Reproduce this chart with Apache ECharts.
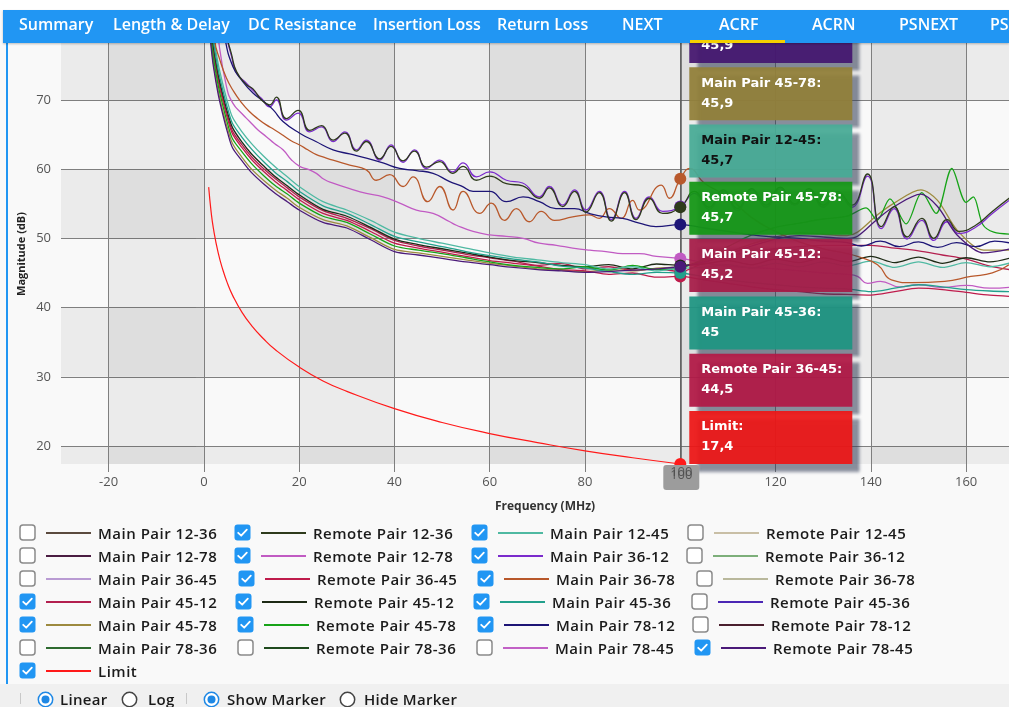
<!DOCTYPE html>
<html>
<head>
<meta charset="utf-8">
<script src="https://cdn.jsdelivr.net/npm/echarts@6/dist/echarts.min.js"></script>
<style>
  html, body { margin: 0; padding: 0; }
  body { width: 1009px; height: 707px; position: relative; overflow: hidden; background: #f9f9f9; font-family: 'Open Sans', sans-serif; }
  #topgap { position: absolute; left: 0; top: 0; width: 1009px; height: 10px; background: #fff; z-index: 3; }
  #tabs { position: absolute; left: 3px; top: 10px; right: 0; height: 33px; background: #2196f3; z-index: 3; box-shadow: 0 1px 2px rgba(0,0,0,0.25); }
  #tabs span { position: absolute; top: 0; line-height: 29px; color: #fff; font-weight: 600; font-size: 16px; white-space: nowrap; }
  #tabs .sel-bar { position: absolute; left: 687px; width: 95px; bottom: 0; height: 3px; background: #f5d000; }
  #edge { position: absolute; left: 6px; top: 43px; width: 2px; height: 641px; background: #2196f3; z-index: 2; }
  #chart { position: absolute; left: 0; top: 0; width: 1009px; height: 520px; }
  #legend { position: absolute; left: 0; top: 0; width: 1009px; height: 707px; pointer-events: none; }
  .item { position: absolute; height: 18px; }
  .item svg { position: absolute; left: 0; top: 0; }
  .item .ln { position: absolute; left: 27px; top: 8px; width: 45px; height: 2px; }
  .item .lb { position: absolute; left: 79px; top: -3px; line-height: 24px; font-size: 15px; font-weight: 600; letter-spacing: 0.5px; color: #1a1a1a; white-space: nowrap; }
  #bottom { position: absolute; left: 0; top: 684px; width: 1009px; height: 23px; background: #f0f0f0; }
  #bottom .sep { position: absolute; top: 9px; width: 1px; height: 11px; background: #c8c8c8; }
  #bottom svg { position: absolute; top: 7px; }
  #bottom .t { position: absolute; top: 3px; line-height: 24px; font-size: 15px; font-weight: 600; letter-spacing: 0.3px; color: #1a1a1a; }
</style>
</head>
<body>
<div id="topgap"></div>
<div id="tabs"></div>
<div id="edge"></div>
<div id="chart"></div>
<div id="legend"></div>
<div id="bottom"></div>
<script>
// ACRF view: measured pairs vs frequency, marker at 100 MHz

const tabNames = ['Summary', 'Length & Delay', 'DC Resistance', 'Insertion Loss', 'Return Loss', 'NEXT', 'ACRF', 'ACRN', 'PSNEXT', 'PSACRF'];

// lower bundle, sampled on a shared frequency list (MHz) up to the marker
const lowFreq = [1, 1.5, 2, 3, 4, 5, 6, 8, 10, 12.5, 15, 17.5, 20, 25, 30, 35, 40, 45, 50, 55, 60, 65, 70, 75, 80, 85, 90, 95, 100];

const mainPair12_45 = [86.5, 82.4, 79.3, 75.2, 72.2, 69.6, 67.5, 65.4, 63.7, 61.9, 60.3, 58.9, 57.5, 55.3, 54.1, 52.6, 50.9, 50.0, 49.3, 48.6, 47.9, 47.3, 46.9, 46.5, 46.2, 45.6, 45.9, 45.3, 45.7];
const mainPair45_36 = [85.5, 81.4, 78.4, 74.3, 71.3, 68.7, 66.6, 64.6, 62.9, 61.1, 59.5, 58.2, 56.8, 54.7, 53.6, 52.0, 50.3, 49.5, 48.8, 48.1, 47.5, 47.0, 46.6, 46.0, 45.7, 45.2, 44.8, 45.1, 45.0];
const remotePair45_12 = [84.8, 80.7, 77.7, 73.7, 70.7, 68.1, 66.0, 63.9, 62.2, 60.5, 58.9, 57.6, 56.3, 54.2, 53.2, 51.6, 49.9, 49.1, 48.5, 47.9, 47.3, 46.8, 46.5, 46.1, 45.9, 46.2, 45.6, 46.3, 46.1];
const mainPair45_12 = [84.3, 80.2, 77.2, 73.2, 70.2, 67.6, 65.5, 63.5, 61.8, 60.1, 58.6, 57.3, 56.0, 54.0, 52.9, 51.4, 49.7, 48.9, 48.3, 47.7, 47.2, 46.7, 46.1, 46.4, 45.6, 45.9, 45.4, 45.6, 45.2];
const remotePair36_45 = [83.8, 79.8, 76.8, 72.8, 69.8, 67.2, 65.1, 63.1, 61.4, 59.7, 58.2, 56.9, 55.6, 53.6, 52.6, 51.0, 49.3, 48.6, 48.0, 47.4, 46.8, 46.4, 46.0, 45.5, 45.3, 44.8, 45.0, 44.4, 44.5];
const remotePair45_78 = [83.2, 79.1, 76.1, 72.1, 69.1, 66.5, 64.4, 62.5, 60.8, 59.1, 57.6, 56.4, 55.1, 53.2, 52.3, 50.6, 48.9, 48.3, 47.8, 47.2, 46.6, 46.1, 45.8, 45.6, 45.9, 45.4, 46.1, 45.5, 45.7];
const mainPair45_78 = [82.3, 78.2, 75.3, 71.3, 68.3, 65.8, 63.7, 61.7, 60.0, 58.4, 57.0, 55.8, 54.5, 52.7, 51.8, 50.1, 48.4, 47.9, 47.4, 46.9, 46.4, 46.0, 45.6, 45.4, 45.2, 45.5, 45.3, 45.7, 45.9];
const remotePair78_45 = [81.8, 77.7, 74.8, 70.8, 67.8, 65.2, 63.1, 61.2, 59.5, 57.9, 56.5, 55.3, 54.1, 52.3, 51.5, 49.8, 48.1, 47.6, 47.1, 46.6, 46.2, 45.8, 45.5, 45.3, 45.1, 45.2, 45.4, 45.6, 45.9];

// the same bundle above 100 MHz, [MHz, dB]
const mainPair12_45Tail = [[105, 45.8], [110, 46.2], [115, 45.7], [120, 46.4], [125, 45.9], [130, 46.6], [135, 46.0], [140, 46.7], [145, 45.8], [150, 46.6], [155, 45.8], [160, 46.5], [165, 45.9], [170, 46.6]];
const mainPair45_36Tail = [[105, 44.5], [110, 44.0], [115, 43.6], [120, 43.3], [125, 43.0], [130, 42.8], [135, 42.7], [140, 42.3], [145, 42.8], [150, 43.3], [155, 43.0], [160, 42.6], [165, 42.4], [170, 42.3]];
const remotePair45_12Tail = [[105, 46.3], [110, 46.8], [115, 46.2], [120, 47.0], [125, 46.5], [130, 47.2], [135, 46.6], [140, 47.4], [145, 46.5], [150, 47.3], [155, 46.4], [160, 47.2], [165, 46.6], [170, 47.3]];
const mainPair45_12Tail = [[105, 46.5], [110, 47.5], [115, 48.0], [120, 48.5], [125, 48.8], [130, 49.0], [135, 49.0], [140, 49.0], [145, 48.6], [150, 48.2], [155, 47.6], [160, 47.0], [165, 46.0], [170, 45.4]];
const remotePair36_45Tail = [[105, 44.0], [110, 43.5], [115, 43.0], [120, 42.6], [125, 42.3], [130, 42.0], [135, 41.9], [140, 41.8], [145, 42.3], [150, 42.8], [155, 42.6], [160, 42.2], [165, 41.8], [170, 41.6]];
const remotePair45_78Tail = [[105, 47.0], [110, 48.8], [115, 50.5], [120, 51.6], [125, 52.2], [130, 52.8], [135, 53.2], [139, 54.4], [141.3, 52.6], [144, 55.7], [147.4, 52.1], [150.7, 56.6], [153.7, 53.6], [157, 60.1], [160, 55.2], [161.5, 56.0], [163.5, 52.0], [165.8, 50.9], [170, 50.6]];
const mainPair45_78Tail = [[105, 46.8], [110, 48.0], [115, 49.2], [120, 50.2], [125, 50.8], [130, 50.6], [135, 50.4], [137.2, 50.9], [141.4, 53.4], [144.9, 55.1], [150.5, 57.0], [154, 55.5], [158.1, 51.2], [163.7, 48.3], [170, 48.3]];
const remotePair78_45Tail = [[105, 46.6], [110, 47.7], [115, 48.9], [120, 49.9], [125, 50.4], [130, 50.2], [135, 50.0], [137.2, 50.3], [141.4, 52.8], [144.9, 54.6], [150.5, 56.4], [154, 54.6], [158.1, 50.5], [163.7, 47.9], [170, 48.6]];

// upper curves, [MHz, dB]
const mainPair36_12 = [[1, 100], [3, 88], [4.5, 80], [5.8, 76.3], [6.85, 73.9], [8.95, 72.4], [10.3, 71.4], [12.1, 70.2], [13.8, 69.0], [15.2, 70.0], [17.3, 67.1], [19.8, 68.1], [22.2, 65.4], [24.7, 66.1], [27.1, 64.0], [29.6, 65.4], [32, 62.8], [34.1, 64.2], [36.9, 61.3], [39.3, 63.5], [41.8, 61.0], [44.2, 62.8], [46.7, 60.1], [49.5, 61.3], [52.2, 59.6], [54.4, 60.9], [57.2, 58.9], [60, 59.6], [63.5, 58.4], [66.9, 58.0], [70.4, 56.0], [72.5, 57.5], [75.3, 54.8], [77.8, 57.0], [80.2, 54.1], [83, 56.8], [85.5, 52.7], [88.3, 56.8], [90.7, 52.9], [93.5, 56.0], [96.3, 53.9], [100, 54.6],
  [103, 56.5], [106, 54.2], [109, 56.8], [112, 54.0], [115, 57.0], [118, 54.5], [121, 57.2], [124, 54.8], [127, 57.0], [130, 54.5], [133, 56.5], [136, 54.5], [139.3, 59.0], [142.2, 51.4], [144.9, 54.3], [147.6, 49.9], [150.7, 52.6], [153.2, 49.7], [156, 52.4], [158.5, 50.7], [162, 51.6], [165.5, 53.6], [170, 56.0]];
const remotePair12_36 = [[1, 100], [3, 88.3], [4.5, 80.2], [5.8, 76.6], [6.85, 74.1], [8.95, 72.2], [10.3, 71.6], [12.1, 70.0], [13.8, 69.3], [15.2, 70.4], [17.3, 67.3], [19.8, 68.5], [22.2, 65.6], [24.7, 66.3], [27.1, 64.2], [29.6, 65.2], [32, 62.6], [34.1, 64.0], [36.9, 61.5], [39.3, 63.3], [41.8, 61.2], [44.2, 62.6], [46.7, 60.3], [49.5, 61.1], [52.2, 59.4], [54.4, 60.4], [57.2, 58.4], [60, 59.0], [63.5, 57.9], [66.9, 57.6], [70.4, 55.8], [72.5, 57.3], [75.3, 54.6], [77.8, 56.8], [80.2, 53.8], [83, 56.6], [85.5, 52.5], [88.3, 56.6], [90.7, 52.7], [93.5, 55.8], [96.3, 53.6], [100, 54.5],
  [103, 56.8], [106, 54.5], [109, 57.0], [112, 54.3], [115, 57.2], [118, 54.8], [121, 57.4], [124, 55.0], [127, 57.2], [130, 54.8], [133, 56.8], [136, 54.8], [139.3, 59.3], [142.2, 51.7], [144.9, 54.6], [147.6, 50.2], [150.7, 52.9], [153.2, 50.0], [156, 52.7], [158.5, 51.0], [162, 51.9], [165.5, 53.9], [170, 56.3]];
const mainPair78_12 = [[1, 100], [3, 86], [4.4, 79], [6.1, 74.8], [8, 72.8], [10.3, 71.0], [12.5, 69.8], [14.5, 68.6], [16.6, 66.9], [20.1, 65.2], [23.5, 64.0], [27.1, 62.8], [30.6, 62.2], [34.1, 61.6], [37.6, 60.9], [41.1, 60.1], [44.6, 59.8], [48.1, 59.4], [51.6, 58.2], [54, 57.6], [56.5, 56.8], [60, 56.8], [63.5, 55.3], [67, 56.0], [70.4, 55.3], [73.9, 54.3], [77.8, 54.3], [80.9, 53.6], [84.4, 53.1], [87.9, 52.9], [91.4, 52.2], [94.9, 51.7], [100, 52.0],
  [105, 51.5], [110, 51.0], [115, 50.5], [120, 50.2], [125, 50.0], [130, 49.6], [135, 49.4], [138, 48.9], [142, 49.6], [146, 48.8], [150, 49.5], [154, 48.7], [158, 49.4], [162, 48.8], [166, 49.6], [170, 49.2]];
const mainPair36_78 = [[1, 92], [2.3, 78.5], [3.35, 75.8], [4.7, 73.2], [6.1, 71.4], [7.8, 69.7], [9.6, 68.3], [11.3, 67.3], [13.1, 66.4], [14.8, 65.7], [16.6, 64.9], [18.3, 64.1], [20.1, 63.5], [21.8, 62.8], [23.6, 62.1], [25.3, 61.7], [27.1, 61.3], [30.6, 60.6], [34.1, 59.9], [36.2, 58.4], [39, 59.2], [41.8, 57.5], [43.9, 58.9], [47, 55.3], [49.5, 57.5], [52.3, 54.1], [54.4, 56.8], [57.9, 53.6], [60.3, 55.1], [63.1, 52.6], [65.6, 54.3], [68.3, 52.4], [70.8, 53.9], [73.6, 52.6], [77.4, 53.1], [80.9, 53.4], [83, 52.9], [85.1, 54.3], [87.6, 52.9], [90, 55.5], [91.4, 54.1], [96, 57.7], [97.7, 55.8], [100, 58.6],
  [102, 60.1], [105, 58.0], [110, 56.0], [115, 53.0], [120, 51.0], [125, 49.5], [130, 48.5], [135, 47.8], [137.2, 47.4], [141.4, 46.2], [144.3, 44.0], [148.5, 43.6], [155.5, 43.8], [161, 44.5], [165.5, 45.0], [169, 46.2]];
const remotePair12_78 = [[1, 95], [2, 86], [3, 79], [4.75, 71.9], [6.1, 69.5], [8, 68.0], [9.6, 66.9], [11.3, 65.7], [13.1, 64.7], [14.8, 63.7], [16.6, 62.8], [18.3, 61.4], [20.1, 60.4], [21.8, 60.0], [23.6, 59.4], [25.3, 58.5], [27.1, 58.0], [30.6, 57.2], [34.1, 56.5], [37.6, 56.0], [41.1, 55.1], [44.6, 54.1], [48.1, 53.6], [51.6, 52.4], [53, 51.9], [56.5, 51.0], [60, 50.5], [63.5, 50.3], [67, 50.0], [70.4, 49.3], [74, 49.0], [77.4, 48.6], [81, 48.3], [84.4, 48.1], [87.9, 47.8], [91.4, 47.8], [95, 47.4], [100, 47.1],
  [105, 46.5], [110, 46.0], [120, 45.6], [130, 45.0], [135, 44.8], [137.2, 44.5], [139.3, 43.5], [142, 43.8], [146, 43.0], [150, 43.3], [155, 42.9], [160, 43.2], [165, 42.8], [170, 43.0]];
const limit = [[1, 57.4], [1.5, 53.9], [2, 51.4], [3, 47.9], [4, 45.4], [5, 43.4], [6, 41.8], [8, 39.3], [10, 37.4], [12.5, 35.5], [15, 33.9], [20, 31.4], [25, 29.4], [30, 27.9], [40, 25.4], [50, 23.4], [60, 21.8], [70, 20.5], [80, 19.3], [90, 18.3], [100, 17.4]];

// legend, row by row as in the panel
const legendNames = [
  'Main Pair 12-36', 'Remote Pair 12-36', 'Main Pair 12-45', 'Remote Pair 12-45',
  'Main Pair 12-78', 'Remote Pair 12-78', 'Main Pair 36-12', 'Remote Pair 36-12',
  'Main Pair 36-45', 'Remote Pair 36-45', 'Main Pair 36-78', 'Remote Pair 36-78',
  'Main Pair 45-12', 'Remote Pair 45-12', 'Main Pair 45-36', 'Remote Pair 45-36',
  'Main Pair 45-78', 'Remote Pair 45-78', 'Main Pair 78-12', 'Remote Pair 78-12',
  'Main Pair 78-36', 'Remote Pair 78-36', 'Main Pair 78-45', 'Remote Pair 78-45',
  'Limit'
];
const legendColors = [
  '#5b4a3e', '#2e3b1c', '#4fb9a2', '#c9bfa6',
  '#4b1d42', '#c15bc3', '#7b2bcc', '#7daf7a',
  '#b99bd3', '#bf1c4c', '#b8582b', '#b9b89c',
  '#b3204f', '#1d2a15', '#22a08c', '#4c27b5',
  '#9d8a3f', '#17a318', '#1d1576', '#4b1f2e',
  '#2e6b30', '#1f4a1e', '#c261c6', '#4b1a79',
  '#ff1a1a'
];
const legendChecked = [
  0, 1, 1, 0,
  0, 1, 1, 0,
  0, 1, 1, 0,
  1, 1, 1, 0,
  1, 1, 1, 0,
  0, 0, 0, 1,
  1
];

const MARKER_MHZ = 100;

// ---------- page chrome ----------
const tabX = [19, 113, 248, 373, 497, 622, 719, 812, 899, 990];
const tabs = document.getElementById('tabs');
tabs.innerHTML = tabNames.map((t, i) => `<span style="left:${tabX[i] - 3}px">${t.replace('&', '&amp;')}</span>`).join('') + '<div class="sel-bar"></div>';

const rowY = [533, 556, 579, 602, 625, 648, 671];
const colX = [[19, 234, 471, 687], [19, 234, 471, 686], [19, 238, 477, 696], [19, 235, 473, 691], [19, 237, 477, 692], [19, 237, 476, 694], [19]];

function box(checked) {
  return checked
    ? '<svg width="17" height="17"><rect x="0.5" y="0.5" width="16" height="16" rx="3" fill="#2196f3"/><path d="M4.2 8.8 L7.2 11.7 L12.8 5.6" stroke="#fff" stroke-width="1.8" fill="none" stroke-linecap="round" stroke-linejoin="round"/></svg>'
    : '<svg width="17" height="17"><rect x="1" y="1" width="15" height="15" rx="3" fill="#fff" stroke="#8a8a8a" stroke-width="1.5"/></svg>';
}

document.getElementById('legend').innerHTML = legendNames.map((n, i) => {
  const r = Math.floor(i / 4), c = i % 4;
  return `<div class="item" style="left:${colX[r][c]}px;top:${rowY[r] - 9}px">${box(legendChecked[i])}
    <div class="ln" style="background:${legendColors[i]}"></div><div class="lb">${n}</div></div>`;
}).join('');

function radio(cx, on) {
  const inner = on ? '<circle cx="8.5" cy="8.5" r="4" fill="#1e88e5"/>' : '';
  const stroke = on ? '#1e88e5' : '#444';
  return `<svg width="17" height="17" style="left:${cx - 8.5}px"><circle cx="8.5" cy="8.5" r="7.2" fill="#fff" stroke="${stroke}" stroke-width="1.5"/>${inner}</svg>`;
}
document.getElementById('bottom').innerHTML =
  '<div class="sep" style="left:20px"></div>' +
  radio(45, true) + '<div class="t" style="left:60px">Linear</div>' +
  radio(129, false) + '<div class="t" style="left:148px">Log</div>' +
  '<div class="sep" style="left:186px"></div>' +
  radio(211, true) + '<div class="t" style="left:227px">Show Marker</div>' +
  radio(347, false) + '<div class="t" style="left:364px">Hide Marker</div>';

// ---------- chart ----------
const colorOf = name => legendColors[legendNames.indexOf(name)];
const onLow = (vals, tail) => lowFreq.map((f, i) => [f, vals[i]]).concat(tail);

// tie order matters for the marker stack (stable ascending sort)
const plotted = [
  ['Main Pair 45-12', onLow(mainPair45_12, mainPair45_12Tail)],
  ['Main Pair 45-78', onLow(mainPair45_78, mainPair45_78Tail)],
  ['Remote Pair 12-36', remotePair12_36],
  ['Remote Pair 12-78', remotePair12_78],
  ['Remote Pair 36-45', onLow(remotePair36_45, remotePair36_45Tail)],
  ['Remote Pair 45-12', onLow(remotePair45_12, remotePair45_12Tail)],
  ['Remote Pair 45-78', onLow(remotePair45_78, remotePair45_78Tail)],
  ['Main Pair 12-45', onLow(mainPair12_45, mainPair12_45Tail)],
  ['Main Pair 36-12', mainPair36_12],
  ['Main Pair 36-78', mainPair36_78],
  ['Main Pair 45-36', onLow(mainPair45_36, mainPair45_36Tail)],
  ['Main Pair 78-12', mainPair78_12],
  ['Remote Pair 78-45', onLow(remotePair78_45, remotePair78_45Tail)],
  ['Limit', limit]
];
// wavy traces get rounder smoothing; the olive trace sits on top of its purple twin
const wavy = ['Main Pair 36-12', 'Remote Pair 12-36', 'Main Pair 36-78', 'Main Pair 78-12', 'Remote Pair 12-78'];
const onTop = { 'Remote Pair 12-36': 1 };

const atMarker = data => data.find(p => p[0] === MARKER_MHZ)[1];
const GRID = '#7f7f7f';
const FONT = "'Open Sans', sans-serif";

const series = plotted.map(([name, data], i) => {
  const color = colorOf(name);
  const lift = onTop[name] || 0;
  const s = {
    name,
    type: 'line',
    data,
    symbol: 'none',
    smooth: name === 'Limit' ? 0.5 : (wavy.includes(name) ? 0.5 : 0.3),
    color,
    lineStyle: { color, width: name === 'Limit' ? 1.2 : 1.3 },
    z: 3 + lift + i * 0.01,
    silent: true,
    markPoint: {
      symbol: 'circle',
      symbolSize: 12,
      silent: true,
      z: 6 + lift + i * 0.01,
      label: { show: false },
      itemStyle: { color },
      data: [{ coord: [MARKER_MHZ, atMarker(data)] }]
    }
  };
  if (name === 'Limit') {
    s.markLine = {
      silent: true,
      symbol: ['none', 'none'],
      label: { show: false },
      lineStyle: { color: '#5a5a5a', width: 1.5, type: 'solid' },
      data: [{ xAxis: MARKER_MHZ }]
    };
  }
  return s;
});

const chart = echarts.init(document.getElementById('chart'));
chart.setOption({
  animation: false,
  textStyle: { fontFamily: FONT },
  grid: { left: 61, right: 0, top: 10, bottom: 56 },
  xAxis: {
    type: 'value',
    min: -30,
    max: 169,
    splitNumber: 10,
    axisLine: { show: false },
    axisTick: { show: true, length: 8, lineStyle: { color: GRID } },
    axisLabel: { showMinLabel: false, showMaxLabel: false, color: '#555', fontSize: 13, margin: 12, fontFamily: FONT },
    splitLine: { show: true, showMinLine: false, showMaxLine: false, lineStyle: { color: GRID, width: 1 } },
    splitArea: { show: true, areaStyle: { color: ['rgba(0,0,0,0)', 'rgba(0,0,0,0.055)'] } }
  },
  yAxis: {
    type: 'value',
    min: 17.4,
    max: 83,
    splitNumber: 7,
    axisLine: { show: false },
    axisTick: { show: true, length: 8, lineStyle: { color: GRID } },
    axisLabel: { showMinLabel: false, showMaxLabel: false, color: '#555', fontSize: 13, margin: 10, fontFamily: FONT },
    splitLine: { show: true, showMinLine: false, showMaxLine: false, lineStyle: { color: GRID, width: 1 } },
    splitArea: { show: true, areaStyle: { color: ['rgba(0,0,0,0.055)', 'rgba(0,0,0,0)'] } }
  },
  series
});

// marker read-out: one box per curve, stacked up from the plot floor
const mx = chart.convertToPixel({ xAxisIndex: 0 }, MARKER_MHZ);
const floor = chart.convertToPixel({ yAxisIndex: 0 }, 17.4);
const BOX_W = 163, BOX_H = 53, PITCH = 57.3;

const readings = plotted
  .map(([name, data]) => ({ name, value: atMarker(data), color: colorOf(name) }))
  .sort((a, b) => a.value - b.value);

const lum = hex => {
  const n = parseInt(hex.slice(1), 16);
  return 0.299 * (n >> 16) + 0.587 * ((n >> 8) & 255) + 0.114 * (n & 255);
};

const graphics = [];
readings.forEach((r, i) => {
  const top = floor - BOX_H - PITCH * i;
  const shape = { x: mx + 9, y: top, width: BOX_W, height: BOX_H };
  graphics.push({
    type: 'rect', z: 100 - i, shape,
    style: { fill: r.color, opacity: 0.94, shadowBlur: 3, shadowColor: 'rgba(50,60,85,0.6)', shadowOffsetX: 8, shadowOffsetY: 8 }
  });
  graphics.push({ type: 'rect', z: 100.5 - i, shape, style: { fill: 'rgba(0,0,0,0.07)' } });
  graphics.push({
    type: 'text',
    z: 101 - i,
    x: mx + 21,
    y: top + 6,
    style: {
      text: r.name + ':\n' + String(r.value).replace('.', ','),
      fill: lum(r.color) > 140 ? '#111' : '#fff',
      font: "bold 13px 'DejaVu Sans', sans-serif",
      lineHeight: 20,
      verticalAlign: 'top'
    }
  });
});

// x read-out under the marker
graphics.push({
  type: 'rect', z: 120,
  shape: { x: mx - 17, y: floor + 1, width: 36, height: 25, r: 3 },
  style: { fill: '#9c9c9c' }
});
[floor + 8, floor + 11].forEach(y => graphics.push({
  type: 'text', z: 121, x: mx + 1, y,
  style: { text: String(MARKER_MHZ), fill: '#4a4a4a', font: "13px 'Open Sans', sans-serif", align: 'center', verticalAlign: 'middle', opacity: 0.85 }
}));

// axis titles
graphics.push({
  type: 'text', z: 50, x: 545, y: 507,
  style: { text: 'Frequency (MHz)', fill: '#333', font: "bold 12px 'Open Sans', sans-serif", align: 'center', verticalAlign: 'middle' }
});
graphics.push({
  type: 'text', z: 50, x: 22, y: 254, rotation: Math.PI / 2,
  style: { text: 'Magnitude (dB)', fill: '#222', font: "bold 11px 'Open Sans', sans-serif", align: 'center', verticalAlign: 'middle' }
});

chart.setOption({ graphic: graphics });
</script>
</body>
</html>
